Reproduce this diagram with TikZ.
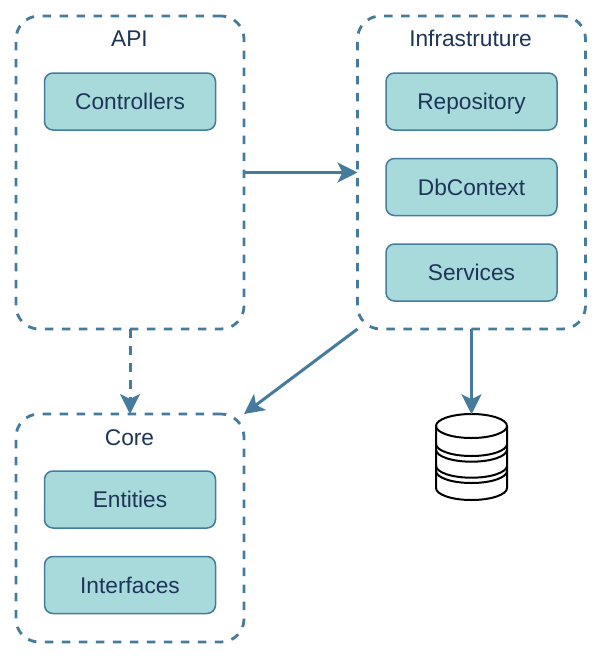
\documentclass[tikz,border=0pt]{standalone}
\usepackage{fontspec}
\setmainfont{Liberation Sans}
\usetikzlibrary{arrows.meta}
\definecolor{edgeblue}{HTML}{457B9D}
\definecolor{boxfill}{HTML}{A8DADC}
\definecolor{inktext}{HTML}{1D3557}
\tikzset{
  x=1pt,y=-1pt,
  group/.style={draw=edgeblue,line width=2.8pt,dash pattern=on 8.5pt off 8.5pt,rounded corners=23pt,fill=white,minimum width=228pt,inner sep=0pt,outer sep=0pt},
  item/.style={draw=edgeblue,line width=1.5pt,fill=boxfill,rounded corners=8.5pt,minimum width=171pt,minimum height=57pt,inner sep=0pt,outer sep=0pt,text=inktext,text height=16pt,text depth=0pt,font=\fontsize{22.7pt}{25pt}\selectfont},
  grouptitle/.style={text=inktext,inner sep=0pt,text height=15pt,text depth=0pt,font=\fontsize{22.7pt}{25pt}\selectfont},
  link/.style={draw=edgeblue,line width=3pt,-{Stealth[length=20pt,width=20pt,inset=5pt]}},
  linkdash/.style={link,dash pattern=on 8.5pt off 8.5pt},
  dbline/.style={draw=black,line width=2pt},
}
\begin{document}
\begin{tikzpicture}
\useasboundingbox (0,0) rectangle (600,657);
\fill[white] (0,0) rectangle (600,657);
\node[group,minimum height=313pt] (api) at (130,172.5) {};
\node[group,minimum height=313pt] (infra) at (471.5,172.5) {};
\node[group,minimum height=228pt] (core) at (130,528) {};
\node[grouptitle] (apit) at (129.5,39) {API};
\node[grouptitle] (infrat) at (470.5,39) {Infrastruture};
\node[grouptitle] (coret) at (129.5,438) {Core};
\node[item] (ctrl) at (130,101.5) {Controllers};
\node[item] (repo) at (471.5,101.5) {Repository};
\node[item] (dbc) at (471.5,187) {DbContext};
\node[item] (serv) at (471.5,272.5) {Services};
\node[item] (ent) at (130,499.5) {Entities};
\node[item] (intf) at (130,585) {Interfaces};
\node[minimum width=71pt,minimum height=85.5pt,inner sep=0pt,outer sep=0pt] (db) at (471.5,457) {};
\draw[dbline,fill=white] (436,426) arc[x radius=35.5,y radius=12,start angle=180,end angle=360]
  -- (507,488) arc[x radius=35.5,y radius=12,start angle=0,end angle=180] -- cycle;
\foreach \yy in {426,444,449.7,465.7,471}{
  \draw[dbline] (436,\yy) arc[x radius=35.5,y radius=12,start angle=180,end angle=0];
}
\draw[link] (api.east) -- (infra.west);
\draw[linkdash] (api.south) -- (core.north);
\draw[link] (infra.south west) -- (core.north east);
\draw[link] (infra.south) -- (db.north);
\end{tikzpicture}
\end{document}
